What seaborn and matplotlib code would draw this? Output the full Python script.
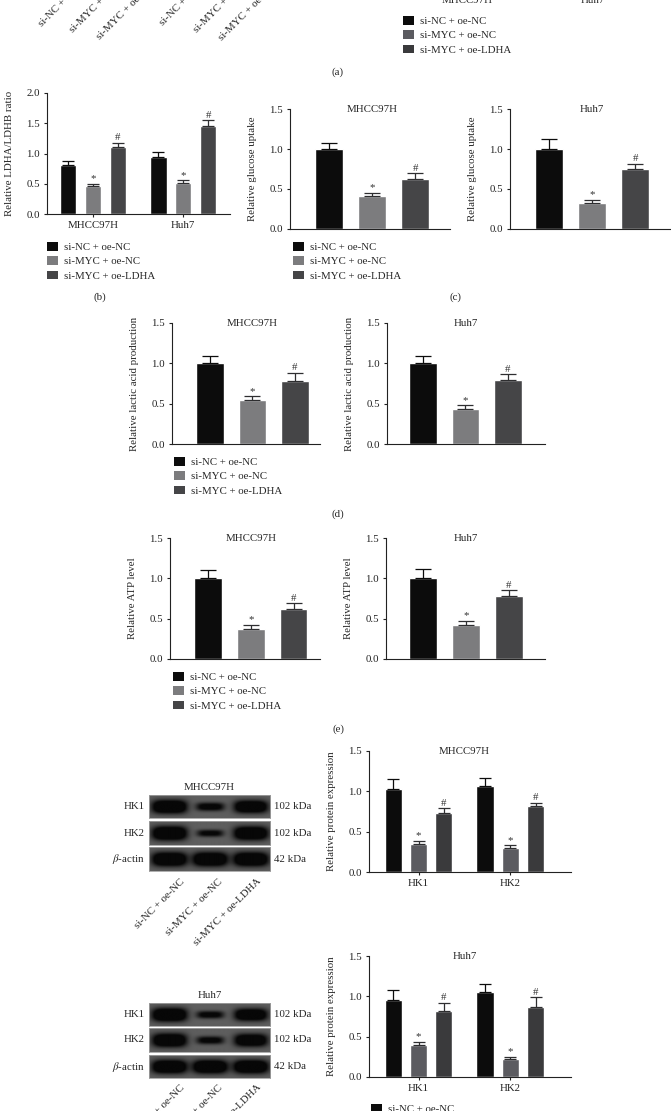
import numpy as np
import pandas as pd
import matplotlib.pyplot as plt
import matplotlib.patches as mpatches
import seaborn as sns

# ---- data ----
groups = ["si-NC + oe-NC", "si-MYC + oe-NC", "si-MYC + oe-LDHA"]
cells = ["MHCC97H", "Huh7"]
proteins = ["HK1", "HK2"]
blot_rows = ["HK1", "HK2", r"$\beta$-actin"]
kda = ["102 kDa", "102 kDa", "42 kDa"]

# (b) LDHA/LDHB ratio, one row per cell line
ldh_ratio = [[0.81, 0.46, 1.10], [0.95, 0.51, 1.45]]
ldh_err = [[0.07, 0.04, 0.08], [0.07, 0.045, 0.10]]
# (c) glucose uptake
glucose_mhcc = [1.0, 0.41, 0.63]
glucose_mhcc_err = [0.075, 0.045, 0.07]
glucose_huh7 = [1.0, 0.32, 0.745]
glucose_huh7_err = [0.12, 0.045, 0.07]
# (d) lactic acid
lactic_mhcc = [1.0, 0.55, 0.78]
lactic_mhcc_err = [0.09, 0.04, 0.105]
lactic_huh7 = [1.0, 0.43, 0.79]
lactic_huh7_err = [0.09, 0.05, 0.075]
# (e) ATP
atp_mhcc = [1.0, 0.37, 0.62]
atp_mhcc_err = [0.10, 0.055, 0.075]
atp_huh7 = [1.0, 0.42, 0.78]
atp_huh7_err = [0.11, 0.053, 0.073]
# (f) protein expression, one row per protein
hk_mhcc = [[1.025, 0.35, 0.735], [1.066, 0.30, 0.814]]
hk_mhcc_err = [[0.125, 0.04, 0.055], [0.10, 0.03, 0.045]]
hk_huh7 = [[0.96, 0.40, 0.82], [1.056, 0.226, 0.87]]
hk_huh7_err = [[0.12, 0.04, 0.10], [0.10, 0.025, 0.12]]
# relative band strength of the blots (rows HK1, HK2, actin)
bands_mhcc = [[1.0, 0.45, 0.9], [1.0, 0.32, 0.95], [1.0, 1.0, 1.0]]
bands_huh7 = [[1.0, 0.38, 0.85], [0.95, 0.38, 0.85], [1.0, 1.0, 1.0]]

pal_light = ["#0c0c0c", "#7c7c7e", "#454547"]
pal_dark = ["#0c0c0c", "#5b5b60", "#3a3a3c"]
marks = ["", "*", "#"]

sns.set_style("ticks")
plt.rcParams["font.family"] = ["Liberation Serif", "DejaVu Serif"]
plt.rcParams["mathtext.fontset"] = "stix"
FS = 7.8
plt.rc("font", size=FS)
plt.rc("axes", linewidth=0.8, edgecolor="#222222")
plt.rc("xtick", labelsize=FS, color="#222222")
plt.rc("ytick", labelsize=FS, color="#222222")

W, H = 671, 1111
fig = plt.figure(figsize=(W / 100, H / 100), dpi=100)


def px_axes(left, top, right, bottom):
    return fig.add_axes([left / W, 1 - bottom / H, (right - left) / W, (bottom - top) / H])


def ftext(x, y, s, **kw):
    fig.text(x / W, 1 - y / H, s, fontsize=FS, **kw)


def add_err(ax, df, cap):
    bars = sorted(ax.patches, key=lambda p: p.get_x())
    for p, (_, row) in zip(bars, df.iterrows()):
        gi = groups.index(row["group"])
        x = p.get_x() + p.get_width() / 2
        top = p.get_height() + row["err"]
        ec = "#0c0c0c" if gi == 0 else "#2e2e30"
        ax.errorbar(x, p.get_height(), yerr=[[0], [row["err"]]], fmt="none",
                    ecolor=ec, elinewidth=0.9, capsize=cap, capthick=0.9)
        if marks[gi]:
            ax.annotate(marks[gi], (x, top), xytext=(0, 0.3), textcoords="offset points",
                        ha="center", va="bottom", fontsize=FS, color="#333333")


def style(ax, ymax, ylabel):
    ax.set_ylim(0, ymax)
    ticks = np.arange(0, ymax + 0.01, 0.5)
    ax.set_yticks(ticks)
    ax.set_yticklabels([f"{v:.1f}" for v in ticks])
    ax.tick_params(axis="y", length=2.2, width=0.8, pad=3)
    ax.tick_params(axis="x", length=2.2, width=0.8, pad=2.5)
    ax.set_ylabel(ylabel, labelpad=9, fontsize=FS)
    ax.set_xlabel("")
    sns.despine(ax=ax)


def single_panel(box, xlim, title, ylabel, vals, errs, pal):
    ax = px_axes(*box)
    df = pd.DataFrame({"group": groups, "value": vals, "err": errs})
    sns.barplot(data=df, x="group", y="value", hue="group", palette=pal, width=0.65,
                saturation=1, errorbar=None, legend=False, ax=ax)
    add_err(ax, df, 6)
    style(ax, 1.5, ylabel)
    ax.set_xlim(*xlim)
    ax.set_xticks([])
    ax.text(1, 1.5, title, ha="center", va="center", fontsize=FS)
    return ax


def grouped_panel(box, xlim, cats, vals, errs, pal, ymax, ylabel, title=None):
    ax = px_axes(*box)
    df = pd.DataFrame({"cat": np.repeat(cats, 3), "group": groups * len(cats),
                       "value": np.ravel(vals), "err": np.ravel(errs)})
    sns.barplot(data=df, x="cat", y="value", hue="group", hue_order=groups, palette=pal,
                width=0.83, gap=0.33, saturation=1, errorbar=None, legend=False, ax=ax)
    add_err(ax, df, 4.2)
    style(ax, ymax, ylabel)
    ax.set_xlim(*xlim)
    if title:
        ax.text(0.5, ymax, title, ha="center", va="center", fontsize=FS)
    return ax


def legend_at(x, y, pal):
    handles = [mpatches.Patch(facecolor=c, edgecolor="none") for c in pal]
    fig.legend(handles, groups, loc="upper left", bbox_to_anchor=(x / W, 1 - y / H),
               frameon=False, borderpad=0, borderaxespad=0, handlelength=1.0,
               handleheight=0.88, handletextpad=0.6, labelspacing=0.38, fontsize=FS)


def blot(x0, x1, rows_y, strengths, title, label_y):
    for (t, b), s_row, name, kd in zip(rows_y, strengths, blot_rows, kda):
        ax = px_axes(x0, t, x1, b)
        h, w = 48, 242
        yy, xx = np.mgrid[0:h, 0:w]
        img = np.full((h, w), 0.37)
        for i, s in enumerate(s_row):
            cx = w * (i + 0.5) / 3
            sx = 35 * (0.65 + 0.35 * s)
            sy = 14 * s ** 0.6
            band = np.exp(-np.abs((xx - cx) / sx) ** 4 - np.abs((yy - h / 2) / sy) ** 2.5)
            img = img - 0.34 * np.clip(band * 1.8 * (0.45 + 0.55 * s), 0, 1)
        ax.imshow(img, cmap="gray", vmin=0, vmax=1, aspect="auto", interpolation="bilinear")
        ax.set_xticks([])
        ax.set_yticks([])
        for sp in ax.spines.values():
            sp.set_color("#a0a0a0")
            sp.set_linewidth(0.6)
        ftext(x0 - 4, (t + b) / 2, name, ha="right", va="center")
        ftext(x1 + 4, (t + b) / 2, kd, ha="left", va="center")
    ftext((x0 + x1) / 2, rows_y[0][0] - 7, title, ha="center", va="center")
    for lx, g in zip([180, 218, 257], groups):
        ftext(lx, label_y, g, ha="right", va="top", rotation=45, rotation_mode="anchor")


# ---- (a) remnants at the top (cut by the figure edge, as in the source) ----
for sx, sy, g in zip([42, 73, 100, 163, 197, 222], [27, 33, 40, 26, 33, 41], groups * 2):
    ftext(sx, sy, g, ha="left", va="baseline", rotation=45, rotation_mode="anchor")
ftext(467, 3, "MHCC97H", ha="center", va="baseline")
ftext(593, 3, "Huh7", ha="center", va="baseline")
legend_at(403, 16, pal_dark)
ftext(337, 72, "(a)", ha="center", va="center")

# ---- (b) ----
grouped_panel((47, 93, 230, 214), (-0.51, 1.52), cells, ldh_ratio, ldh_err, pal_light,
              2.0, "Relative LDHA/LDHB ratio")
legend_at(47, 242, pal_light)
ftext(100, 297, "(b)", ha="center", va="center")

# ---- (c) ----
single_panel((290, 109, 450, 229), (-0.91, 2.81), "MHCC97H", "Relative glucose uptake",
             glucose_mhcc, glucose_mhcc_err, pal_light)
single_panel((510, 109, 670, 229), (-0.91, 2.81), "Huh7", "Relative glucose uptake",
             glucose_huh7, glucose_huh7_err, pal_light)
legend_at(293, 242, pal_light)
ftext(455, 297, "(c)", ha="center", va="center")

# ---- (d) ----
single_panel((172, 323, 320, 444), (-0.89, 2.59), "MHCC97H", "Relative lactic acid production",
             lactic_mhcc, lactic_mhcc_err, pal_light)
single_panel((387, 323, 545, 444), (-0.84, 2.87), "Huh7", "Relative lactic acid production",
             lactic_huh7, lactic_huh7_err, pal_light)
legend_at(174, 457, pal_light)
ftext(338, 514, "(d)", ha="center", va="center")

# ---- (e) ----
single_panel((170, 538, 320, 659), (-0.89, 2.62), "MHCC97H", "Relative ATP level",
             atp_mhcc, atp_mhcc_err, pal_light)
single_panel((386, 538, 545, 659), (-0.86, 2.84), "Huh7", "Relative ATP level",
             atp_huh7, atp_huh7_err, pal_light)
legend_at(173, 672, pal_light)
ftext(338, 729, "(e)", ha="center", va="center")

# ---- (f) ----
blot(149, 270, [(795, 818), (821, 845), (847, 871)], bands_mhcc, "MHCC97H", 877)
blot(149, 270, [(1003, 1026), (1028, 1052), (1055, 1078)], bands_huh7, "Huh7", 1083)
grouped_panel((369, 751, 571, 872), (-0.54, 1.66), proteins, hk_mhcc, hk_mhcc_err, pal_dark,
              1.5, "Relative protein expression", title="MHCC97H")
grouped_panel((369, 956, 571, 1077), (-0.54, 1.66), proteins, hk_huh7, hk_huh7_err, pal_dark,
              1.5, "Relative protein expression", title="Huh7")
legend_at(371, 1104, pal_dark)

fig.savefig("out.png", dpi=100, facecolor="white")
